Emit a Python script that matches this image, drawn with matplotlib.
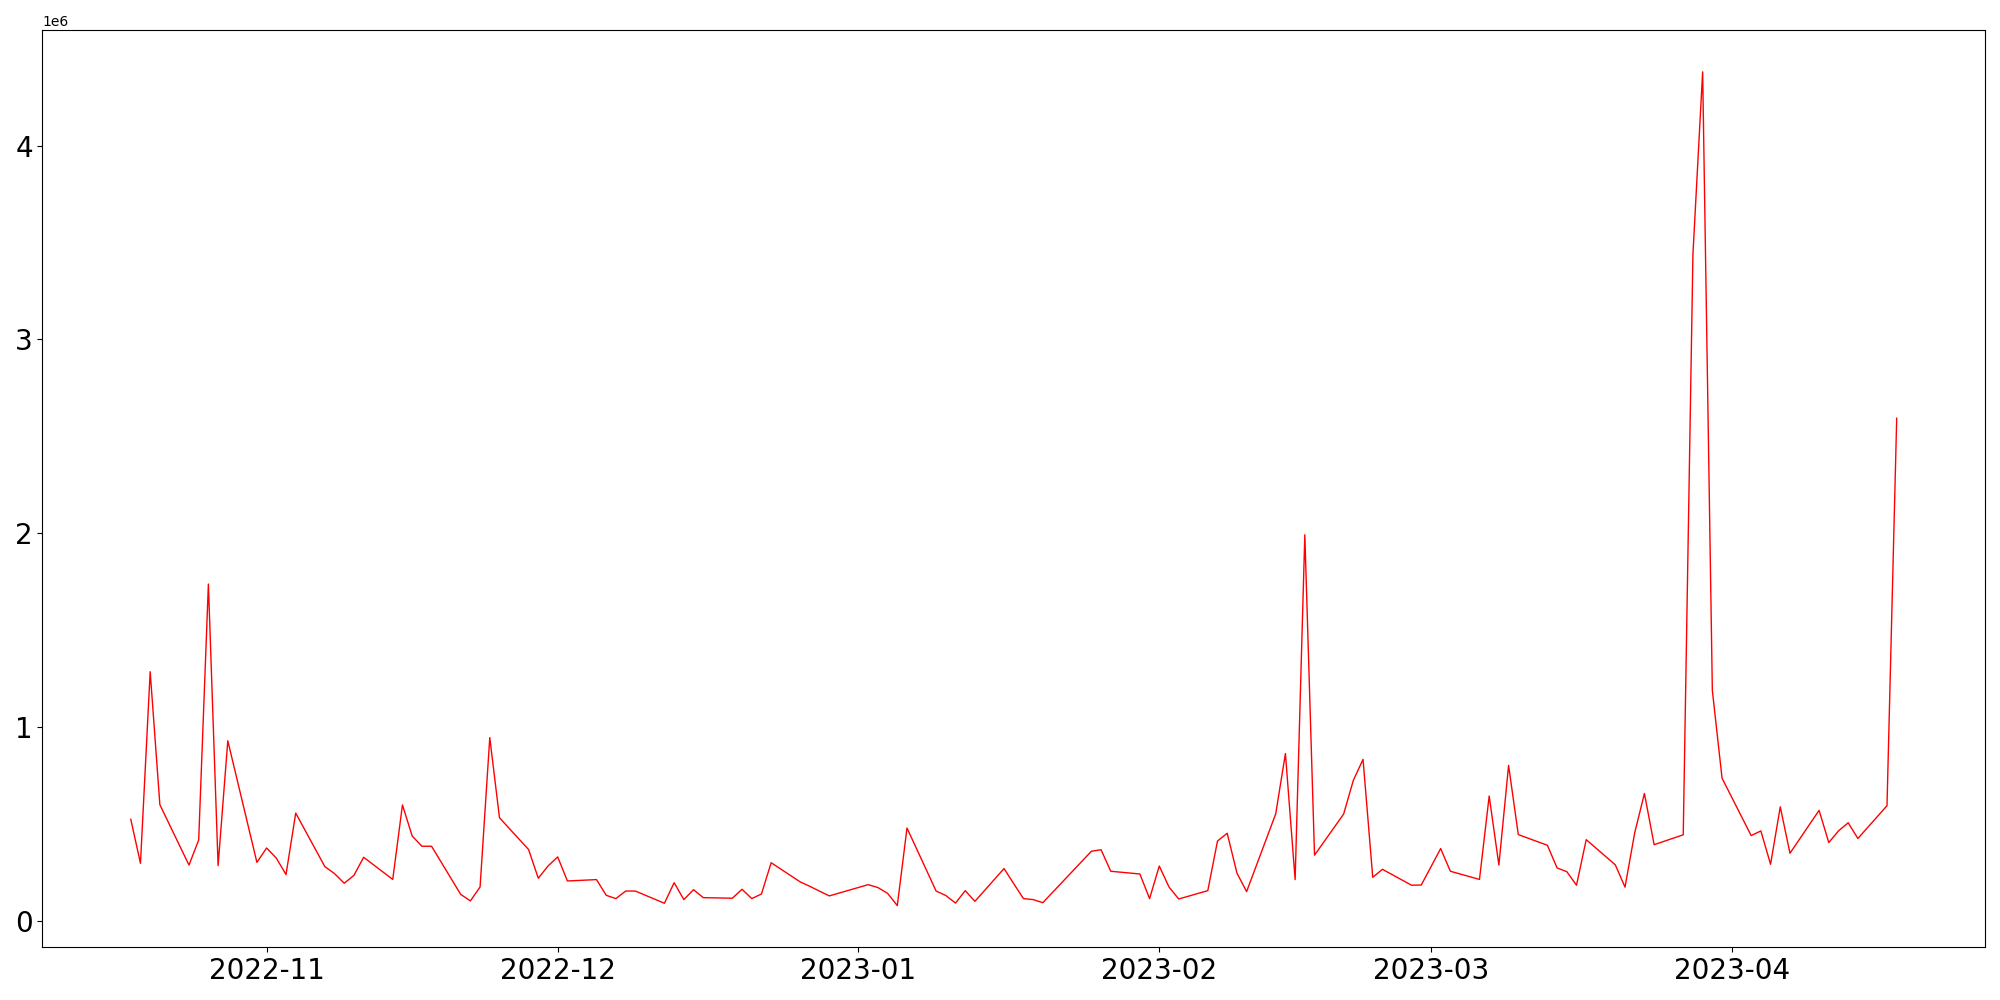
import pandas as pd
import matplotlib
matplotlib.use("Agg")
import matplotlib.pyplot as plt

### Data ###

# trading days (KRX calendar: weekdays minus exchange holidays)
start_date = "2022-10-18"
end_date = "2023-04-18"
holidays = ["2022-12-30", "2023-01-23", "2023-01-24", "2023-03-01"]

# daily volume (units of 1e6)
oct_vals = [0.526, 0.299, 1.287, 0.601, 0.290, 0.419, 1.739, 0.287, 0.931, 0.304]
nov_vals = [0.378, 0.326, 0.241, 0.558, 0.282, 0.246, 0.196, 0.237, 0.330, 0.216,
            0.600, 0.440, 0.387, 0.387, 0.139, 0.105, 0.177, 0.947, 0.534, 0.370,
            0.222, 0.285]
dec_vals = [0.332, 0.208, 0.215, 0.134, 0.117, 0.156, 0.156, 0.093, 0.199, 0.112,
            0.163, 0.122, 0.119, 0.165, 0.117, 0.141, 0.302, 0.203, 0.180, 0.155,
            0.131]
jan_vals = [0.189, 0.174, 0.144, 0.081, 0.481, 0.156, 0.133, 0.094, 0.158, 0.103,
            0.272, 0.194, 0.117, 0.112, 0.096, 0.361, 0.369, 0.258, 0.244, 0.117]
feb_vals = [0.285, 0.177, 0.115, 0.158, 0.414, 0.454, 0.249, 0.153, 0.554, 0.865,
            0.215, 1.993, 0.341, 0.553, 0.727, 0.835, 0.227, 0.268, 0.186, 0.187]
mar_vals = [0.375, 0.258, 0.216, 0.646, 0.290, 0.804, 0.447, 0.392, 0.275, 0.256,
            0.186, 0.421, 0.291, 0.176, 0.457, 0.659, 0.395, 0.446, 3.44, 4.38,
            1.19, 0.738]
apr_vals = [0.442, 0.466, 0.294, 0.590, 0.351, 0.572, 0.406, 0.466, 0.508, 0.427,
            0.596, 2.594]

### Build series ###

dates = pd.bdate_range(start_date, end_date, freq="C", holidays=holidays)
values = oct_vals + nov_vals + dec_vals + jan_vals + feb_vals + mar_vals + apr_vals
df = pd.DataFrame({"date": dates, "volume": [v * 1e6 for v in values]})

### Plot ###

fig, ax = plt.subplots(figsize=(20, 10), dpi=100)
ax.plot(df["date"], df["volume"], color="red", linewidth=1)
ax.tick_params(axis="both", labelsize=20)
plt.tight_layout()
plt.savefig("out.png")
